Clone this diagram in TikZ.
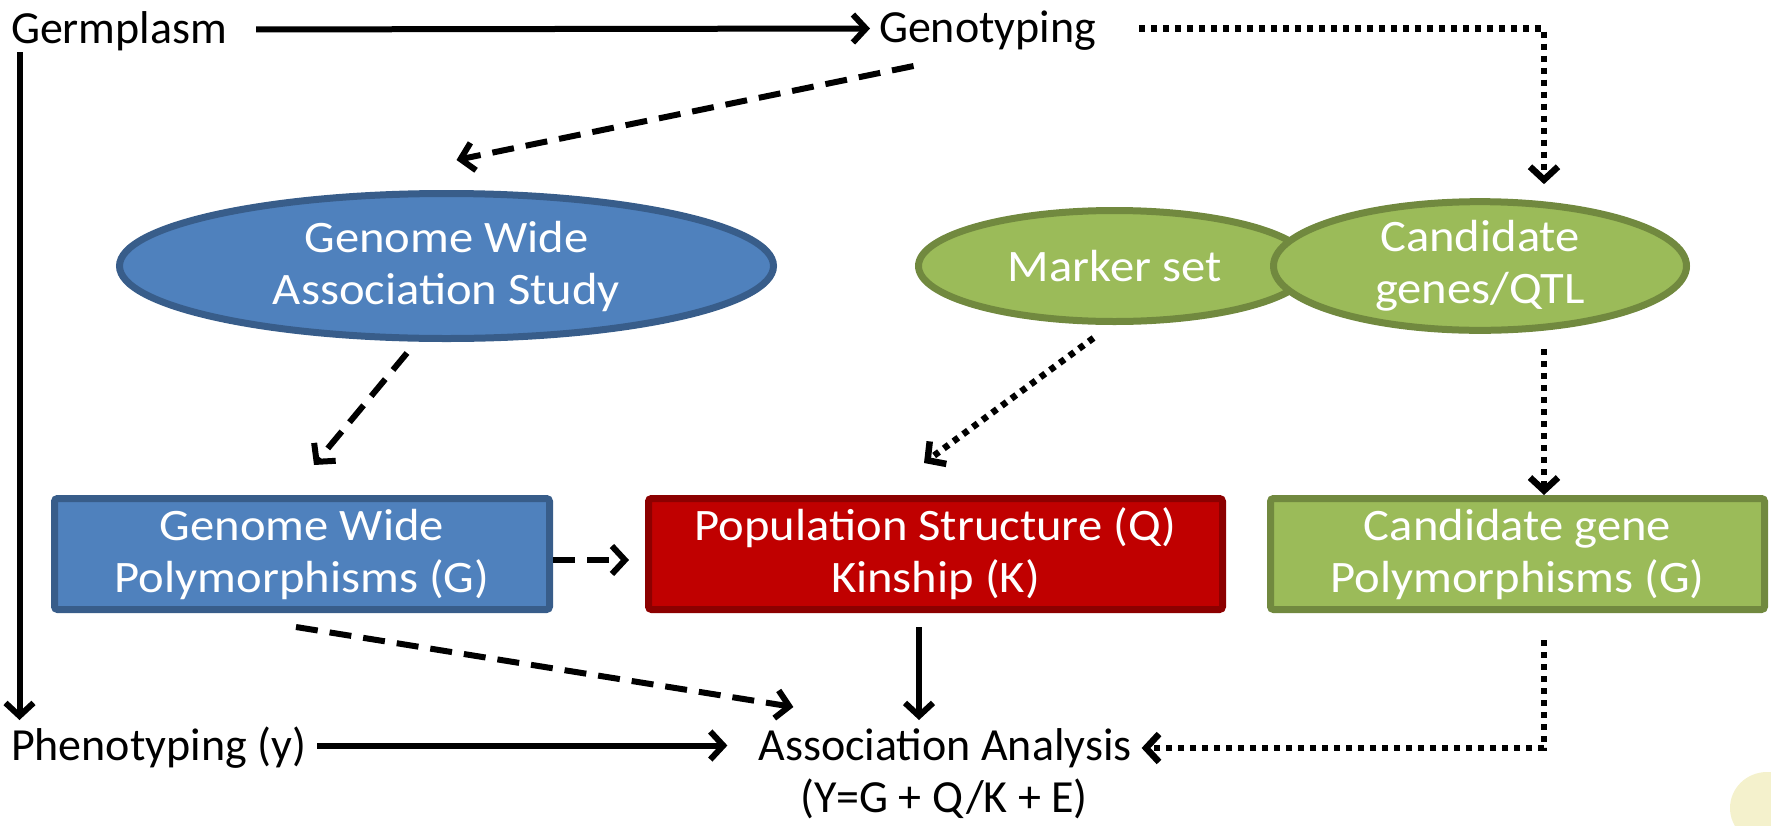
\documentclass[tikz,border=0pt]{standalone}
\usepackage{fontspec}
\setmainfont{Carlito}
\newfontfamily\wfont{Carlito}[FakeStretch=1.08]
\usetikzlibrary{arrows.meta,shapes.geometric}
\definecolor{bluefill}{HTML}{4F81BD}
\definecolor{blueline}{HTML}{385D8A}
\definecolor{redfill}{HTML}{C00000}
\definecolor{redline}{HTML}{8C0000}
\definecolor{greenfill}{HTML}{9BBB59}
\definecolor{greenline}{HTML}{71893F}
\definecolor{cream}{HTML}{F4F1CC}
\begin{document}
\begin{tikzpicture}[x=1pt,y=-1pt,
  lbl/.style={inner sep=0pt, outer sep=0pt, text height=30pt, text depth=9pt, font=\fontsize{46}{53}\selectfont},
  wtext/.style={text=white, font=\wfont\fontsize{45}{52}\selectfont, align=center},
  boxA/.style={rectangle, rounded corners=3pt, line width=7pt, minimum height=111pt, inner sep=0pt, wtext},
  ell/.style={ellipse, line width=7pt, inner sep=0pt, wtext},
  tipA/.style={-{Straight Barb[length=13pt,width=28pt]}},
  solidarrow/.style={line width=6pt, tipA},
  dasharrow/.style={line width=6pt, dash pattern=on 22pt off 12pt, tipA},
  dotarrow/.style={line width=6.5pt, dash pattern=on 6pt off 6pt, tipA},
]
\useasboundingbox (0,0) rectangle (1771,825);
\begin{scope}
\clip (0,0) rectangle (1771,825);
\fill[cream] (1767,808) ellipse [x radius=37, y radius=36];
\end{scope}

% text labels
\node[lbl, anchor=base west] (germ) at (11,43) {Germplasm};
\node[lbl, anchor=base west] (geno) at (879,42) {Genotyping};
\node[lbl, anchor=base west] (pheno) at (11,760) {Phenotyping (y)};
\node[lbl, anchor=base] (assoc) at (945,760) {Association Analysis};
\node[lbl, anchor=base] (formula) at (944,812) {(Y=G + Q/K + E)};

% ellipses
\node[ell, draw=blueline, fill=bluefill, minimum width=654pt, minimum height=145pt] (gwas) at (446.5,266) {Genome Wide\\Association Study};
\node[ell, draw=greenline, fill=greenfill, minimum width=392pt, minimum height=111pt] (marker) at (1114.5,266) {Marker set};
\node[ell, draw=greenline, fill=greenfill, minimum width=413pt, minimum height=111pt] (candell) at (1480,266) {Candidate\\genes/QTL};

% boxes
\node[boxA, draw=blueline, fill=bluefill, minimum width=495pt] (gwbox) at (302,554) {Genome Wide\\Polymorphisms (G)};
\node[boxA, draw=redline, fill=redfill, minimum width=574pt] (pop) at (935.5,554) {Population Structure (Q)\\Kinship (K)};
\node[boxA, draw=greenline, fill=greenfill, minimum width=494pt] (candbox) at (1517.5,554) {Candidate gene\\Polymorphisms (G)};

% connectors
\draw[solidarrow, shorten <=29pt, shorten >=9pt] ([yshift=3pt]germ.east) -- ([yshift=3pt]geno.west);
\draw[solidarrow] ([xshift=8.5pt]germ.south west) -- ([xshift=8.5pt,yshift=10pt]pheno.north west);
\draw[solidarrow, shorten <=11pt, shorten >=31pt] ([yshift=4pt]pheno.east) -- ([yshift=4pt]assoc.west);
\draw[solidarrow] ([xshift=-16.5pt,yshift=-14pt]pop.south) -- ([xshift=-26pt,yshift=10pt]assoc.north);

\draw[dotarrow] ([xshift=43pt,yshift=3pt]geno.east) -| ([xshift=64pt,yshift=14pt]candell.north);
\draw[dotarrow] ([xshift=64pt,yshift=-15pt]candell.south) -- ([xshift=26.5pt]candbox.north);
\draw[dotarrow] ([xshift=26.5pt,yshift=-27pt]candbox.south) |- ([xshift=10pt,yshift=1.5pt]assoc.east);
\draw[dotarrow] ([xshift=-21pt,yshift=-13pt]marker.south) -- ([xshift=-11.5pt,yshift=32pt]pop.north);

\draw[dasharrow] ([xshift=-74pt,yshift=-15pt]geno.south) -- ([xshift=10pt,yshift=30pt]gwas.north);
\draw[dasharrow] ([xshift=-39.5pt,yshift=-11pt]gwas.south) -- ([xshift=12pt,yshift=30pt]gwbox.north);
\draw[dasharrow, shorten >=16pt] ([yshift=-6pt]gwbox.east) -- ([yshift=-6pt]pop.west);
\draw[dasharrow] ([xshift=-6pt,yshift=-14pt]gwbox.south) -- ([xshift=35pt,yshift=23pt]assoc.north west);
\end{tikzpicture}
\end{document}
